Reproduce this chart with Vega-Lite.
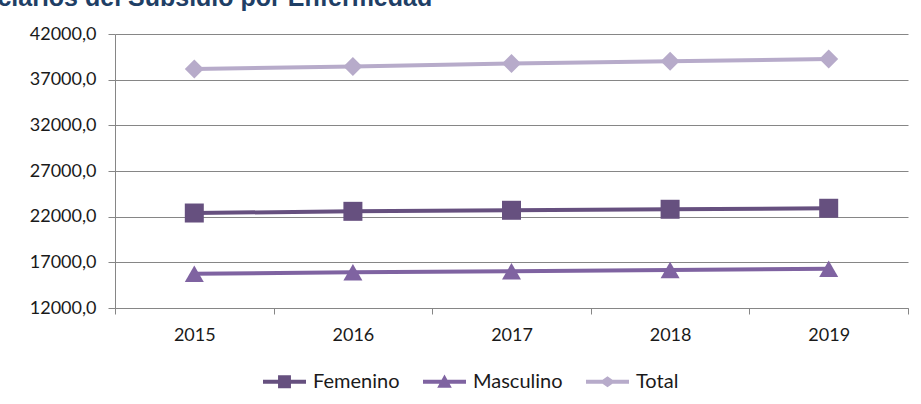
{
  "$schema": "https://vega.github.io/schema/vega-lite/v6.json",
  "width": 793,
  "height": 274,
  "autosize": "none",
  "padding": {"left": 115, "top": 34, "right": 13, "bottom": 96},
  "background": "white",
  "title": {
    "text": "Beneficiarios del Subsidio por Enfermedad",
    "anchor": "start",
    "frame": "group",
    "font": "Liberation Sans",
    "fontSize": 25,
    "fontWeight": "bold",
    "color": "#1f3f66",
    "dx": -194,
    "dy": 22,
    "offset": 16,
    "baseline": "alphabetic"
  },
  "config": {
    "locale": {"number": {"decimal": ",", "thousands": ".", "grouping": [3], "currency": ["", " €"]}},
    "view": {"stroke": null},
    "axis": {"labelFont": "Lato", "labelFontSize": 18, "labelColor": "#1a1a1a", "domainColor": "#868686", "tickColor": "#868686", "gridColor": "#868686", "gridOpacity": 1, "domainWidth": 1, "tickWidth": 1, "gridWidth": 1}
  },
  "data": {
    "values": [
      {"year": "2015", "serie": "Femenino", "value": 22400},
      {"year": "2016", "serie": "Femenino", "value": 22585},
      {"year": "2017", "serie": "Femenino", "value": 22700},
      {"year": "2018", "serie": "Femenino", "value": 22810},
      {"year": "2019", "serie": "Femenino", "value": 22920},
      {"year": "2015", "serie": "Masculino", "value": 15760},
      {"year": "2016", "serie": "Masculino", "value": 15910},
      {"year": "2017", "serie": "Masculino", "value": 16020},
      {"year": "2018", "serie": "Masculino", "value": 16160},
      {"year": "2019", "serie": "Masculino", "value": 16300},
      {"year": "2015", "serie": "Total", "value": 38160},
      {"year": "2016", "serie": "Total", "value": 38450},
      {"year": "2017", "serie": "Total", "value": 38760},
      {"year": "2018", "serie": "Total", "value": 39030},
      {"year": "2019", "serie": "Total", "value": 39250}
    ]
  },
  "encoding": {
    "x": {
      "field": "year",
      "type": "ordinal",
      "bandPosition": 0.5,
      "scale": {"type": "band", "paddingInner": 0, "paddingOuter": 0},
      "axis": {"title": null, "labelAngle": 0, "tickBand": "extent", "tickSize": 6, "labelPadding": 12, "grid": false}
    },
    "y": {
      "field": "value",
      "type": "quantitative",
      "scale": {"domain": [12000, 42000], "nice": false, "zero": false},
      "axis": {"title": null, "values": [12000, 17000, 22000, 27000, 32000, 37000, 42000], "format": ".1f", "tickSize": 7, "labelPadding": 12, "grid": true}
    }
  },
  "layer": [
    {
      "mark": {"type": "line", "strokeWidth": 4},
      "encoding": {
        "color": {
          "field": "serie",
          "type": "nominal",
          "scale": {"domain": ["Femenino", "Masculino", "Total"], "range": ["#66507f", "#7f63a1", "#b7abca"]},
          "legend": {
            "title": null,
            "orient": "none",
            "legendX": 148,
            "legendY": 326,
            "direction": "horizontal",
            "padding": 0,
            "labelFont": "Lato",
            "labelFontSize": 20,
            "labelColor": "#1a1a1a",
            "symbolSize": 1849,
            "symbolStrokeWidth": 0,
            "labelOffset": 7,
            "columnPadding": 23,
            "encode": {
              "symbols": {
                "update": {
                  "shape": {"signal": "datum.value === 'Femenino' ? 'M-1,-0.09H1V0.09H-1Z M-0.3,-0.3H0.3V0.3H-0.3Z' : datum.value === 'Masculino' ? 'M-1,-0.09H1V0.09H-1Z M0,-0.34L0.34,0.28H-0.34Z' : 'M-1,-0.09H1V0.09H-1Z M-0.36,0L0,-0.26L0.36,0L0,0.26Z'"},
                  "fill": {"scale": "color", "field": "value"},
                  "strokeWidth": {"value": 0},
                  "opacity": {"value": 1},
                  "fillOpacity": {"value": 1}
                }
              }
            }
          }
        }
      }
    },
    {
      "transform": [{"filter": "datum.serie === 'Femenino'"}],
      "mark": {"type": "point", "filled": true, "size": 361, "opacity": 1, "shape": "square"},
      "encoding": {"color": {"field": "serie", "type": "nominal", "legend": null}}
    },
    {
      "transform": [{"filter": "datum.serie === 'Masculino'"}],
      "mark": {"type": "point", "filled": true, "size": 361, "opacity": 1, "shape": "triangle-up"},
      "encoding": {"color": {"field": "serie", "type": "nominal", "legend": null}}
    },
    {
      "transform": [{"filter": "datum.serie === 'Total'"}],
      "mark": {"type": "point", "filled": true, "size": 361, "opacity": 1, "shape": "diamond"},
      "encoding": {"color": {"field": "serie", "type": "nominal", "legend": null}}
    }
  ]
}
